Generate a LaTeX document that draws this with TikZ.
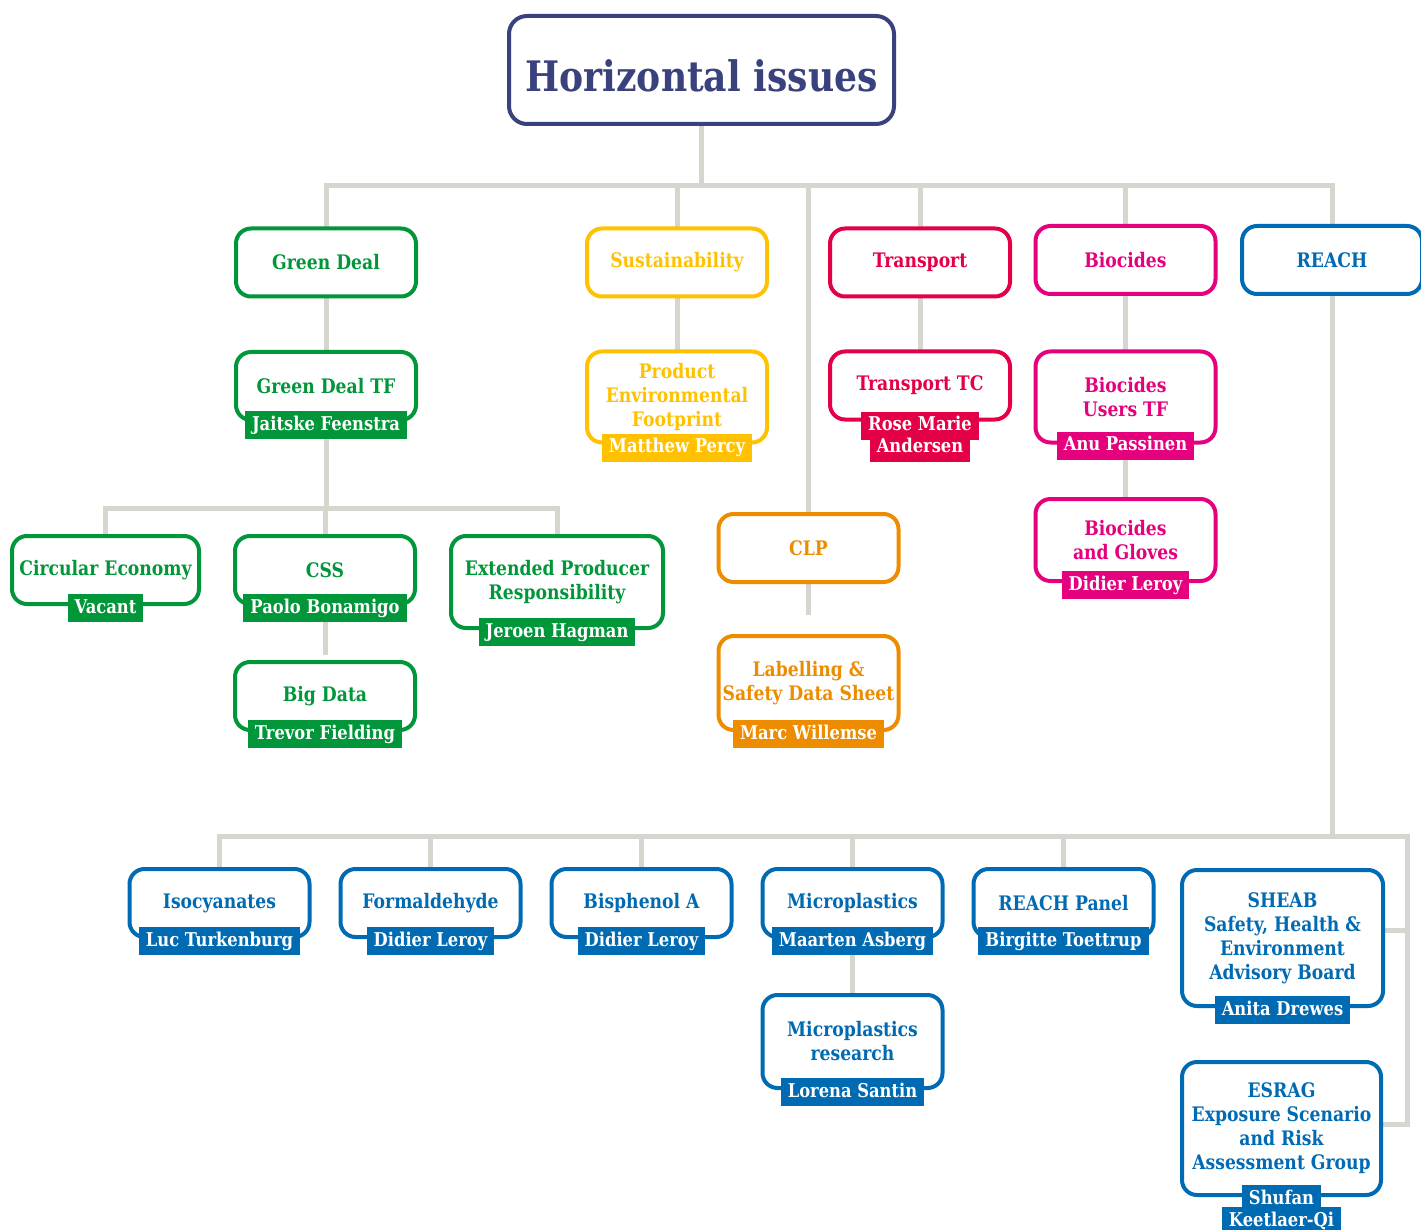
\documentclass[tikz,border=0pt]{standalone}
\usepackage{fontspec}
\setmainfont{DejaVu Serif}[FakeStretch=0.86]
\usetikzlibrary{calc,positioning,backgrounds}

\definecolor{navyH}{RGB}{58,66,125}
\definecolor{greenD}{RGB}{0,150,57}
\definecolor{yellowS}{RGB}{255,193,0}
\definecolor{redT}{RGB}{228,0,70}
\definecolor{pinkB}{RGB}{229,0,126}
\definecolor{orangeC}{RGB}{238,140,0}
\definecolor{blueR}{RGB}{0,106,179}
\definecolor{lineGray}{RGB}{214,214,207}

\newcommand{\boxfont}{\fontsize{20}{24}\selectfont\bfseries}
\newcommand{\tagfont}{\fontsize{19}{22}\selectfont\bfseries}

\tikzset{
  link/.style={draw=lineGray, line width=5pt, line cap=rect},
  box/.style={draw=#1, text=#1, fill=white, line width=4pt, rounded corners=15pt,
    minimum width=180pt, minimum height=68pt, align=center, font=\boxfont, inner sep=2pt},
  tag/.style={fill=#1, text=white, font=\tagfont, inner xsep=7pt, inner ysep=0pt,
    text height=14pt, text depth=4pt, minimum height=28pt},
}

\begin{document}
\begin{tikzpicture}[x=1pt,y=-1pt]

    \useasboundingbox (0,0) rectangle (1421,1230);

    % title
    \node[box=navyH, minimum width=385pt, minimum height=108pt, rounded corners=18pt,
      text height=44pt, text depth=0pt,
      font=\fontsize{42}{48}\selectfont\bfseries] (title) at (701.5,70) {Horizontal issues};

    % first level
    \node[box=greenD] (greendeal) at (326,262.5) {Green Deal};
    \node[box=yellowS] (sustain) at (677,262.5) {Sustainability};
    \node[box=redT] (transport) at (920,262.5) {Transport};
    \node[box=pinkB] (biocides) at (1125.5,260) {Biocides};
    \node[box=blueR] (reach) at (1332,260) {REACH};
    \node[box=orangeC] (clp) at (808.5,548) {CLP};

    % green deal
    \node[box=greenD] (gdtf) at (326,386) {Green Deal TF};
    \node[tag=greenD] (gdtftag) at ([yshift=-3pt]gdtf.south) {Jaitske Feenstra};
    \node[box=greenD, minimum width=187pt] (circular) at (105.5,570) {Circular Economy};
    \node[tag=greenD] (circulartag) at ([yshift=-2pt]circular.south) {Vacant};
    \node[box=greenD] (css) at (325,570) {CSS};
    \node[tag=greenD] (csstag) at ([yshift=-2pt]css.south) {Paolo Bonamigo};
    \node[box=greenD, minimum width=212pt, minimum height=92pt] (epr) at (557,582) {Extended Producer\\Responsibility};
    \node[tag=greenD] (eprtag) at ([yshift=-2pt]epr.south) {Jeroen Hagman};
    \node[box=greenD] (bigdata) at (325,696) {Big Data};
    \node[tag=greenD] (bigdatatag) at ([yshift=-2pt]bigdata.south) {Trevor Fielding};

    % sustainability
    \node[box=yellowS, minimum height=91pt] (pef) at (677,397) {Product\\Environmental\\Footprint};
    \node[tag=yellowS] (peftag) at ([yshift=-3pt]pef.south) {Matthew Percy};

    % transport
    \node[box=redT] (transtc) at (920,385.5) {Transport TC};
    \node[tag=redT] (transtctag) at ([yshift=-4pt]transtc.south) {Rose Marie};
    \node[tag=redT, below=-6pt of transtctag] (transtctagb) {Andersen};

    % biocides
    \node[box=pinkB, minimum height=91pt] (biousers) at (1125.5,397) {Biocides\\Users TF};
    \node[tag=pinkB] (biouserstag) at ([yshift=-1pt]biousers.south) {Anu Passinen};
    \node[box=pinkB, minimum height=82pt] (biogloves) at (1125.5,540) {Biocides\\and Gloves};
    \node[tag=pinkB] (biglovestag) at ([yshift=-2pt]biogloves.south) {Didier Leroy};

    % clp
    \node[box=orangeC, minimum height=94pt] (labelling) at (808.5,683) {Labelling \&\\Safety Data Sheet};
    \node[tag=orangeC] (labellingtag) at ([yshift=-2pt]labelling.south) {Marc Willemse};

    % reach
    \node[box=blueR] (isocyan) at (219.5,903) {Isocyanates};
    \node[tag=blueR] (isocyantag) at ([yshift=-2pt]isocyan.south) {Luc Turkenburg};
    \node[box=blueR] (formal) at (430.5,903) {Formaldehyde};
    \node[tag=blueR] (formaltag) at ([yshift=-2pt]formal.south) {Didier Leroy};
    \node[box=blueR] (bisphenol) at (641.5,903) {Bisphenol A};
    \node[tag=blueR] (bisphenoltag) at ([yshift=-2pt]bisphenol.south) {Didier Leroy};
    \node[box=blueR] (microplast) at (852.5,903) {Microplastics};
    \node[tag=blueR] (microplasttag) at ([yshift=-2pt]microplast.south) {Maarten Asberg};
    \node[box=blueR] (reachpanel) at (1063.5,903) {REACH Panel};
    \node[tag=blueR] (reachpaneltag) at ([yshift=-2pt]reachpanel.south) {Birgitte Toettrup};
    \node[box=blueR, minimum height=93pt] (microres) at (852.5,1041.5) {Microplastics\\research};
    \node[tag=blueR] (microrestag) at ([yshift=-2pt]microres.south) {Lorena Santin};
    \node[box=blueR, minimum width=201pt, minimum height=136pt] (sheab) at (1282.5,938)
      {SHEAB\\Safety, Health \&\\Environment\\Advisory Board};
    \node[tag=blueR] (sheabtag) at ([yshift=-2pt]sheab.south) {Anita Drewes};
    \node[box=blueR, minimum width=199pt, minimum height=133pt] (esrag) at (1281.5,1128.5)
      {ESRAG\\Exposure Scenario\\and Risk\\Assessment Group};
    \node[tag=blueR] (esragtag) at ([yshift=-2pt]esrag.south) {Shufan};
    \node[tag=blueR, below=-6pt of esragtag] (esragtagb) {Keetlaer-Qi};

    % connectors
    \coordinate (topbus) at (0,186);
    \coordinate (gbus) at (0,508);
    \coordinate (rbus) at (0,836);
    \coordinate (rcorner) at (1407,836);
    \coordinate (sheabin) at ([yshift=8pt]sheab.east);
    \coordinate (esragin) at ([yshift=4pt]esrag.east);

    \begin{scope}[on background layer]
        \draw[link] (title.south) -- (title.south |- topbus);
        \draw[link] (greendeal.north |- topbus) -- (reach.north |- topbus);
        \foreach \n in {greendeal,sustain,clp,transport,biocides,reach}
            \draw[link] (\n.north |- topbus) -- (\n.north);

        \draw[link] (greendeal.south) -- (gdtf.north);
        \draw[link] (gdtftag.south) -- (gdtftag.south |- gbus);
        \draw[link] (circular.north |- gbus) -- (epr.north |- gbus);
        \foreach \n in {circular,css,epr}
            \draw[link] (\n.north |- gbus) -- (\n.north);
        \draw[link] (csstag.south) -- ([yshift=8pt]bigdata.north);

        \draw[link] (sustain.south) -- (pef.north);
        \draw[link] (transport.south) -- (transtc.north);
        \draw[link] (clp.south) -- ([yshift=22pt]labelling.north);
        \draw[link] (biocides.south) -- (biousers.north);
        \draw[link] (biouserstag.south) -- (biogloves.north);

        \draw[link] (reach.south) -- (reach.south |- rbus);
        \draw[link] (isocyan.north |- rbus) -- (rcorner) -- (rcorner |- esragin) -- (esragin);
        \draw[link] (sheabin) -- (sheabin -| rcorner);
        \foreach \n in {isocyan,formal,bisphenol,microplast,reachpanel}
            \draw[link] (\n.north |- rbus) -- (\n.north);
        \draw[link] (microplasttag.south) -- (microres.north);
    \end{scope}

\end{tikzpicture}
\end{document}
